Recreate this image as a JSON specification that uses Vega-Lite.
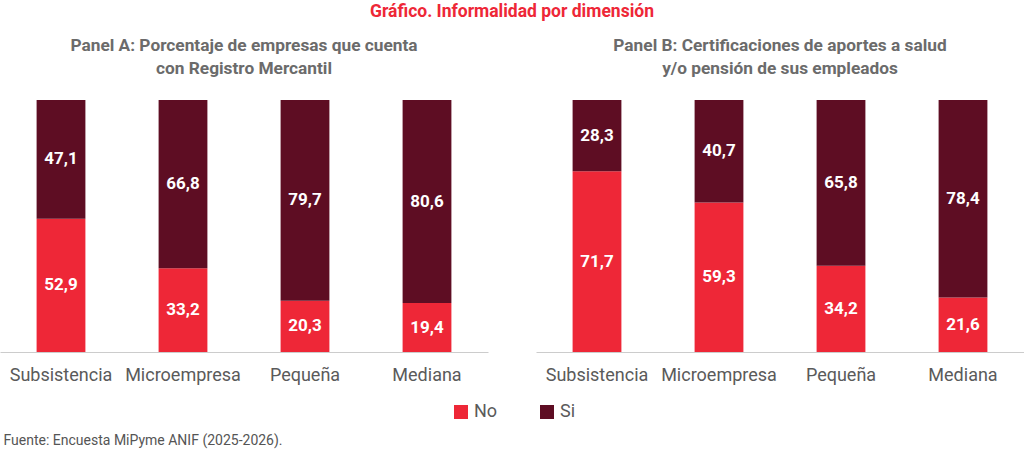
{
  "$schema": "https://vega.github.io/schema/vega-lite/v6.json",
  "padding": {"left": 0, "top": 3, "right": 0, "bottom": 4},
  "config": {
    "view": {"stroke": null},
    "font": "Roboto",
    "locale": {"number": {"decimal": ",", "thousands": ".", "grouping": [3], "currency": ["$", ""]}}
  },
  "title": {
    "text": "Gráfico. Informalidad por dimensión",
    "color": "#EE2737",
    "fontSize": 17.5,
    "fontWeight": "bold",
    "anchor": "middle",
    "offset": 16
  },
  "datasets": {
    "informalidad": [
      {"panel": "A", "tamano": "Subsistencia", "respuesta": "No", "valor": 52.9},
      {"panel": "A", "tamano": "Subsistencia", "respuesta": "Si", "valor": 47.1},
      {"panel": "A", "tamano": "Microempresa", "respuesta": "No", "valor": 33.2},
      {"panel": "A", "tamano": "Microempresa", "respuesta": "Si", "valor": 66.8},
      {"panel": "A", "tamano": "Pequeña", "respuesta": "No", "valor": 20.3},
      {"panel": "A", "tamano": "Pequeña", "respuesta": "Si", "valor": 79.7},
      {"panel": "A", "tamano": "Mediana", "respuesta": "No", "valor": 19.4},
      {"panel": "A", "tamano": "Mediana", "respuesta": "Si", "valor": 80.6},
      {"panel": "B", "tamano": "Subsistencia", "respuesta": "No", "valor": 71.7},
      {"panel": "B", "tamano": "Subsistencia", "respuesta": "Si", "valor": 28.3},
      {"panel": "B", "tamano": "Microempresa", "respuesta": "No", "valor": 59.3},
      {"panel": "B", "tamano": "Microempresa", "respuesta": "Si", "valor": 40.7},
      {"panel": "B", "tamano": "Pequeña", "respuesta": "No", "valor": 34.2},
      {"panel": "B", "tamano": "Pequeña", "respuesta": "Si", "valor": 65.8},
      {"panel": "B", "tamano": "Mediana", "respuesta": "No", "valor": 21.6},
      {"panel": "B", "tamano": "Mediana", "respuesta": "Si", "valor": 78.4}
    ]
  },
  "spacing": 48,
  "hconcat": [
    {
      "width": 488,
      "height": 252,
      "title": {
        "text": ["Panel A: Porcentaje de empresas que cuenta", "con Registro Mercantil"],
        "fontSize": 17.3,
        "fontWeight": "bold",
        "color": "#6b6b6b",
        "lineHeight": 23,
        "offset": 23
      },
      "data": {"name": "informalidad"},
      "transform": [{"filter": "datum.panel == 'A'"}],
      "encoding": {
        "x": {
          "field": "tamano",
          "type": "nominal",
          "sort": ["Subsistencia", "Microempresa", "Pequeña", "Mediana"],
          "scale": {"paddingInner": 0.6, "paddingOuter": 0.3},
          "axis": {
            "title": "Fuente: Encuesta MiPyme ANIF (2025-2026).",
            "titleX": 3,
            "titleY": 92,
            "titleAlign": "left",
            "titleAnchor": "start",
            "titleBaseline": "alphabetic",
            "titleFontSize": 14,
            "titleFontWeight": "normal",
            "titleColor": "#555555",
            "labelAngle": 0,
            "labelFontSize": 18,
            "labelColor": "#5a5a5a",
            "labelPadding": 14,
            "ticks": false,
            "domainColor": "#cccccc"
          }
        }
      },
      "layer": [
        {
          "mark": {"type": "bar"},
          "encoding": {
            "y": {"field": "valor", "type": "quantitative", "scale": {"domain": [0, 100]}, "axis": null},
            "order": {"field": "respuesta", "sort": "ascending"},
            "color": {
              "field": "respuesta",
              "type": "nominal",
              "scale": {"domain": ["No", "Si"], "range": ["#EE2737", "#5E0D23"]},
              "legend": {
                "orient": "none",
                "legendX": 452,
                "legendY": 303,
                "direction": "horizontal",
                "title": null,
                "symbolType": "square",
                "symbolSize": 196,
                "symbolStrokeWidth": 0,
                "labelFontSize": 18,
                "labelColor": "#5a5a5a",
                "labelOffset": 4,
                "columnPadding": 40
              }
            }
          }
        },
        {
          "transform": [{"filter": "datum.respuesta == 'No'"}],
          "mark": {"type": "text", "color": "white", "fontWeight": "bold", "fontSize": 17, "baseline": "middle"},
          "encoding": {
            "y": {"field": "valor", "type": "quantitative", "scale": {"domain": [0, 200]}, "axis": null},
            "text": {"field": "valor", "type": "quantitative", "format": ".1f"}
          }
        },
        {
          "transform": [{"filter": "datum.respuesta == 'Si'"}],
          "mark": {"type": "text", "color": "white", "fontWeight": "bold", "fontSize": 17, "baseline": "middle"},
          "encoding": {
            "y": {"field": "valor", "type": "quantitative", "scale": {"domain": [0, 200], "reverse": true}, "axis": null},
            "text": {"field": "valor", "type": "quantitative", "format": ".1f"}
          }
        }
      ],
      "resolve": {"scale": {"y": "independent"}}
    },
    {
      "width": 488,
      "height": 252,
      "title": {
        "text": ["Panel B: Certificaciones de aportes a salud", "y/o pensión de sus empleados"],
        "fontSize": 17.3,
        "fontWeight": "bold",
        "color": "#6b6b6b",
        "lineHeight": 23,
        "offset": 23
      },
      "data": {"name": "informalidad"},
      "transform": [{"filter": "datum.panel == 'B'"}],
      "encoding": {
        "x": {
          "field": "tamano",
          "type": "nominal",
          "sort": ["Subsistencia", "Microempresa", "Pequeña", "Mediana"],
          "scale": {"paddingInner": 0.6, "paddingOuter": 0.3},
          "axis": {
            "title": null,
            "labelAngle": 0,
            "labelFontSize": 18,
            "labelColor": "#5a5a5a",
            "labelPadding": 14,
            "ticks": false,
            "domainColor": "#cccccc"
          }
        }
      },
      "layer": [
        {
          "mark": {"type": "bar"},
          "encoding": {
            "y": {"field": "valor", "type": "quantitative", "scale": {"domain": [0, 100]}, "axis": null},
            "order": {"field": "respuesta", "sort": "ascending"},
            "color": {"field": "respuesta", "type": "nominal"}
          }
        },
        {
          "transform": [{"filter": "datum.respuesta == 'No'"}],
          "mark": {"type": "text", "color": "white", "fontWeight": "bold", "fontSize": 17, "baseline": "middle"},
          "encoding": {
            "y": {"field": "valor", "type": "quantitative", "scale": {"domain": [0, 200]}, "axis": null},
            "text": {"field": "valor", "type": "quantitative", "format": ".1f"}
          }
        },
        {
          "transform": [{"filter": "datum.respuesta == 'Si'"}],
          "mark": {"type": "text", "color": "white", "fontWeight": "bold", "fontSize": 17, "baseline": "middle"},
          "encoding": {
            "y": {"field": "valor", "type": "quantitative", "scale": {"domain": [0, 200], "reverse": true}, "axis": null},
            "text": {"field": "valor", "type": "quantitative", "format": ".1f"}
          }
        }
      ],
      "resolve": {"scale": {"y": "independent"}}
    }
  ]
}
